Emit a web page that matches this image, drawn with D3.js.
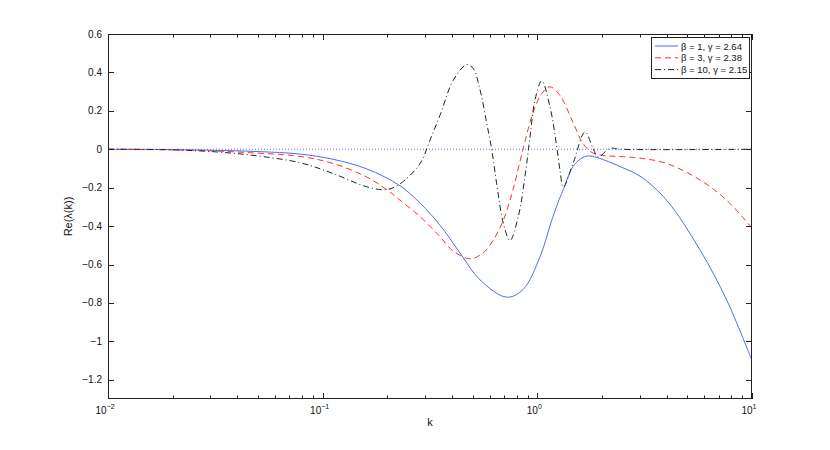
<!DOCTYPE html>
<html><head><meta charset="utf-8">
<script src="https://cdn.jsdelivr.net/npm/d3@7"></script>
<style>body{margin:0;background:#fff}svg{display:block}text{font-family:"Liberation Sans",Arial,sans-serif;}</style>
</head><body>
<script>
// ---- data ----
const kBlue   = [0.01,0.02,0.03,0.05,0.0784,0.1117,0.1603,0.2292,0.284,0.352,0.4362,0.5408,0.7197,0.8576,1.0292,1.1668,1.2755,1.3213,1.4661,1.6324,1.7598,1.9589,2.4272,3.0084,4.006,5.731,7.632,10];
const yBlue   = [0,-0.002,-0.005,-0.012,-0.025,-0.052,-0.102,-0.19,-0.28,-0.395,-0.54,-0.68,-0.77,-0.73,-0.56,-0.37,-0.25,-0.21,-0.09,-0.042,-0.035,-0.048,-0.09,-0.14,-0.266,-0.525,-0.786,-1.1];
const kRed    = [0.01,0.02,0.03,0.0459,0.0784,0.1117,0.1603,0.1987,0.2292,0.284,0.352,0.406,0.4857,0.5585,0.6216,0.6941,0.7702,0.8576,0.9548,1.048,1.1457,1.2755,1.4661,1.6324,1.8169,2.1115,2.4272,3.0084,4.006,5.731,7.632,10];
const yRed    = [0,-0.003,-0.008,-0.018,-0.037,-0.074,-0.144,-0.21,-0.265,-0.35,-0.455,-0.53,-0.57,-0.54,-0.475,-0.37,-0.21,0,0.19,0.29,0.325,0.28,0.14,0.03,-0.02,-0.034,-0.038,-0.046,-0.074,-0.16,-0.266,-0.41];
const kBlack  = [0.01,0.02,0.0322,0.0459,0.0784,0.1117,0.1603,0.1987,0.2292,0.284,0.3162,0.352,0.406,0.4688,0.5031,0.5408,0.5808,0.6128,0.6467,0.6941,0.7459,0.8153,0.8762,0.9247,0.9754,1.048,1.1457,1.231,1.2755,1.3213,1.4661,1.6678,1.8169,1.9173,2.1806,2.4272,10];
const yBlack  = [0,-0.003,-0.014,-0.03,-0.07,-0.126,-0.195,-0.21,-0.18,-0.075,0.048,0.177,0.36,0.44,0.42,0.31,0.137,0,-0.18,-0.385,-0.475,-0.35,-0.14,0.066,0.257,0.356,0.22,0.013,-0.11,-0.197,-0.075,0.09,0.005,-0.04,0.005,0,0];
const seriesNames = ["β = 1, γ = 2.64","β = 3, γ = 2.38","β = 10, γ = 2.15"];
const yTicks = [0.6,0.4,0.2,0,-0.2,-0.4,-0.6,-0.8,-1,-1.2];
const xTickExps = [-2,-1,0,1];
const xLabel = "k", yLabel = "Re(λ(k))";

// ---- layout ----
const W=830,H=450, L=108,R=752,T=34,B=399;
const svg=d3.select("body").append("svg").attr("width",W).attr("height",H);
const x=d3.scaleLog().domain([0.01,10]).range([L,R]);
const y=d3.scaleLinear().domain([-1.3,0.6]).range([B,T]);

svg.append("clipPath").attr("id","c").append("rect").attr("x",L).attr("y",T).attr("width",R-L).attr("height",B-T);
const g=svg.append("g").attr("clip-path","url(#c)");

// zero dotted line
g.append("line").attr("x1",L).attr("x2",R).attr("y1",y(0)).attr("y2",y(0))
 .attr("stroke","#6677ff").attr("stroke-width",1).attr("stroke-dasharray","1,2");

const line=d3.line().x(d=>x(d[0])).y(d=>y(d[1])).curve(d3.curveCatmullRom.alpha(0.5));
const series=[
 {k:kBlue,v:yBlue,color:"#4d6bff",dash:null},
 {k:kRed,v:yRed,color:"#ff3030",dash:"6,4"},
 {k:kBlack,v:yBlack,color:"#222",dash:"6,3,1,3"}
];
series.forEach(s=>{
  g.append("path").datum(s.k.map((k,i)=>[k,s.v[i]])).attr("d",line)
   .attr("fill","none").attr("stroke",s.color).attr("stroke-width",1)
   .attr("stroke-dasharray",s.dash);
});

// axes box
const ax=svg.append("g").attr("stroke","#222").attr("stroke-width",1).attr("fill","none");
ax.append("rect").attr("x",L+0.5).attr("y",T+0.5).attr("width",R-L-1).attr("height",B-T-1);
const minor=[];
for(let e=-2;e<1;e++) for(let m=2;m<=9;m++) minor.push(m*Math.pow(10,e));
xTickExps.forEach(e=>{
  const xx=Math.round(x(Math.pow(10,e)))+0.5;
  ax.append("line").attr("x1",xx).attr("x2",xx).attr("y1",B).attr("y2",B-6);
  ax.append("line").attr("x1",xx).attr("x2",xx).attr("y1",T).attr("y2",T+6);
});
minor.forEach(v=>{
  const xx=Math.round(x(v))+0.5;
  ax.append("line").attr("x1",xx).attr("x2",xx).attr("y1",B).attr("y2",B-3.5);
  ax.append("line").attr("x1",xx).attr("x2",xx).attr("y1",T).attr("y2",T+3.5);
});
yTicks.forEach(v=>{
  const yy=Math.round(y(v))+0.5;
  ax.append("line").attr("x1",L).attr("x2",L+6).attr("y1",yy).attr("y2",yy);
  ax.append("line").attr("x1",R).attr("x2",R-6).attr("y1",yy).attr("y2",yy);
});

// tick labels
const fmt=v=>(v<0?"−":"")+Math.abs(v);
svg.append("g").selectAll("text").data(yTicks).join("text")
 .attr("x",L-6).attr("y",d=>y(d)+3.5).attr("text-anchor","end")
 .attr("font-size",10).attr("fill","#111").text(fmt);
const xl=svg.append("g").selectAll("text").data(xTickExps).join("text")
 .attr("x",d=>x(Math.pow(10,d))-3).attr("y",B+15).attr("text-anchor","middle")
 .attr("font-size",10).attr("fill","#111");
xl.append("tspan").text("10");
xl.append("tspan").attr("dy",-5).attr("font-size",7).text(d=>d<0?"−"+(-d):d);

// axis labels
svg.append("text").attr("x",(L+R)/2).attr("y",426).attr("text-anchor","middle")
 .attr("font-size",11).attr("fill","#111").text(xLabel);
svg.append("text").attr("transform",`translate(72,${(T+B)/2}) rotate(-90)`)
 .attr("text-anchor","middle").attr("font-size",11).attr("fill","#111").text(yLabel);

// legend
const lg=svg.append("g");
lg.append("rect").attr("x",651.5).attr("y",37.5).attr("width",98).attr("height",41)
 .attr("fill","#fff").attr("stroke","#222").attr("stroke-width",1);
series.forEach((s,i)=>{
  const yy=46+i*11.8;
  lg.append("line").attr("x1",655).attr("x2",678).attr("y1",yy).attr("y2",yy)
   .attr("stroke",s.color).attr("stroke-width",1).attr("stroke-dasharray",s.dash);
  lg.append("text").attr("x",681).attr("y",yy+3.5).attr("font-size",9.5).attr("fill","#111").text(seriesNames[i]);
});
</script>
</body></html>
